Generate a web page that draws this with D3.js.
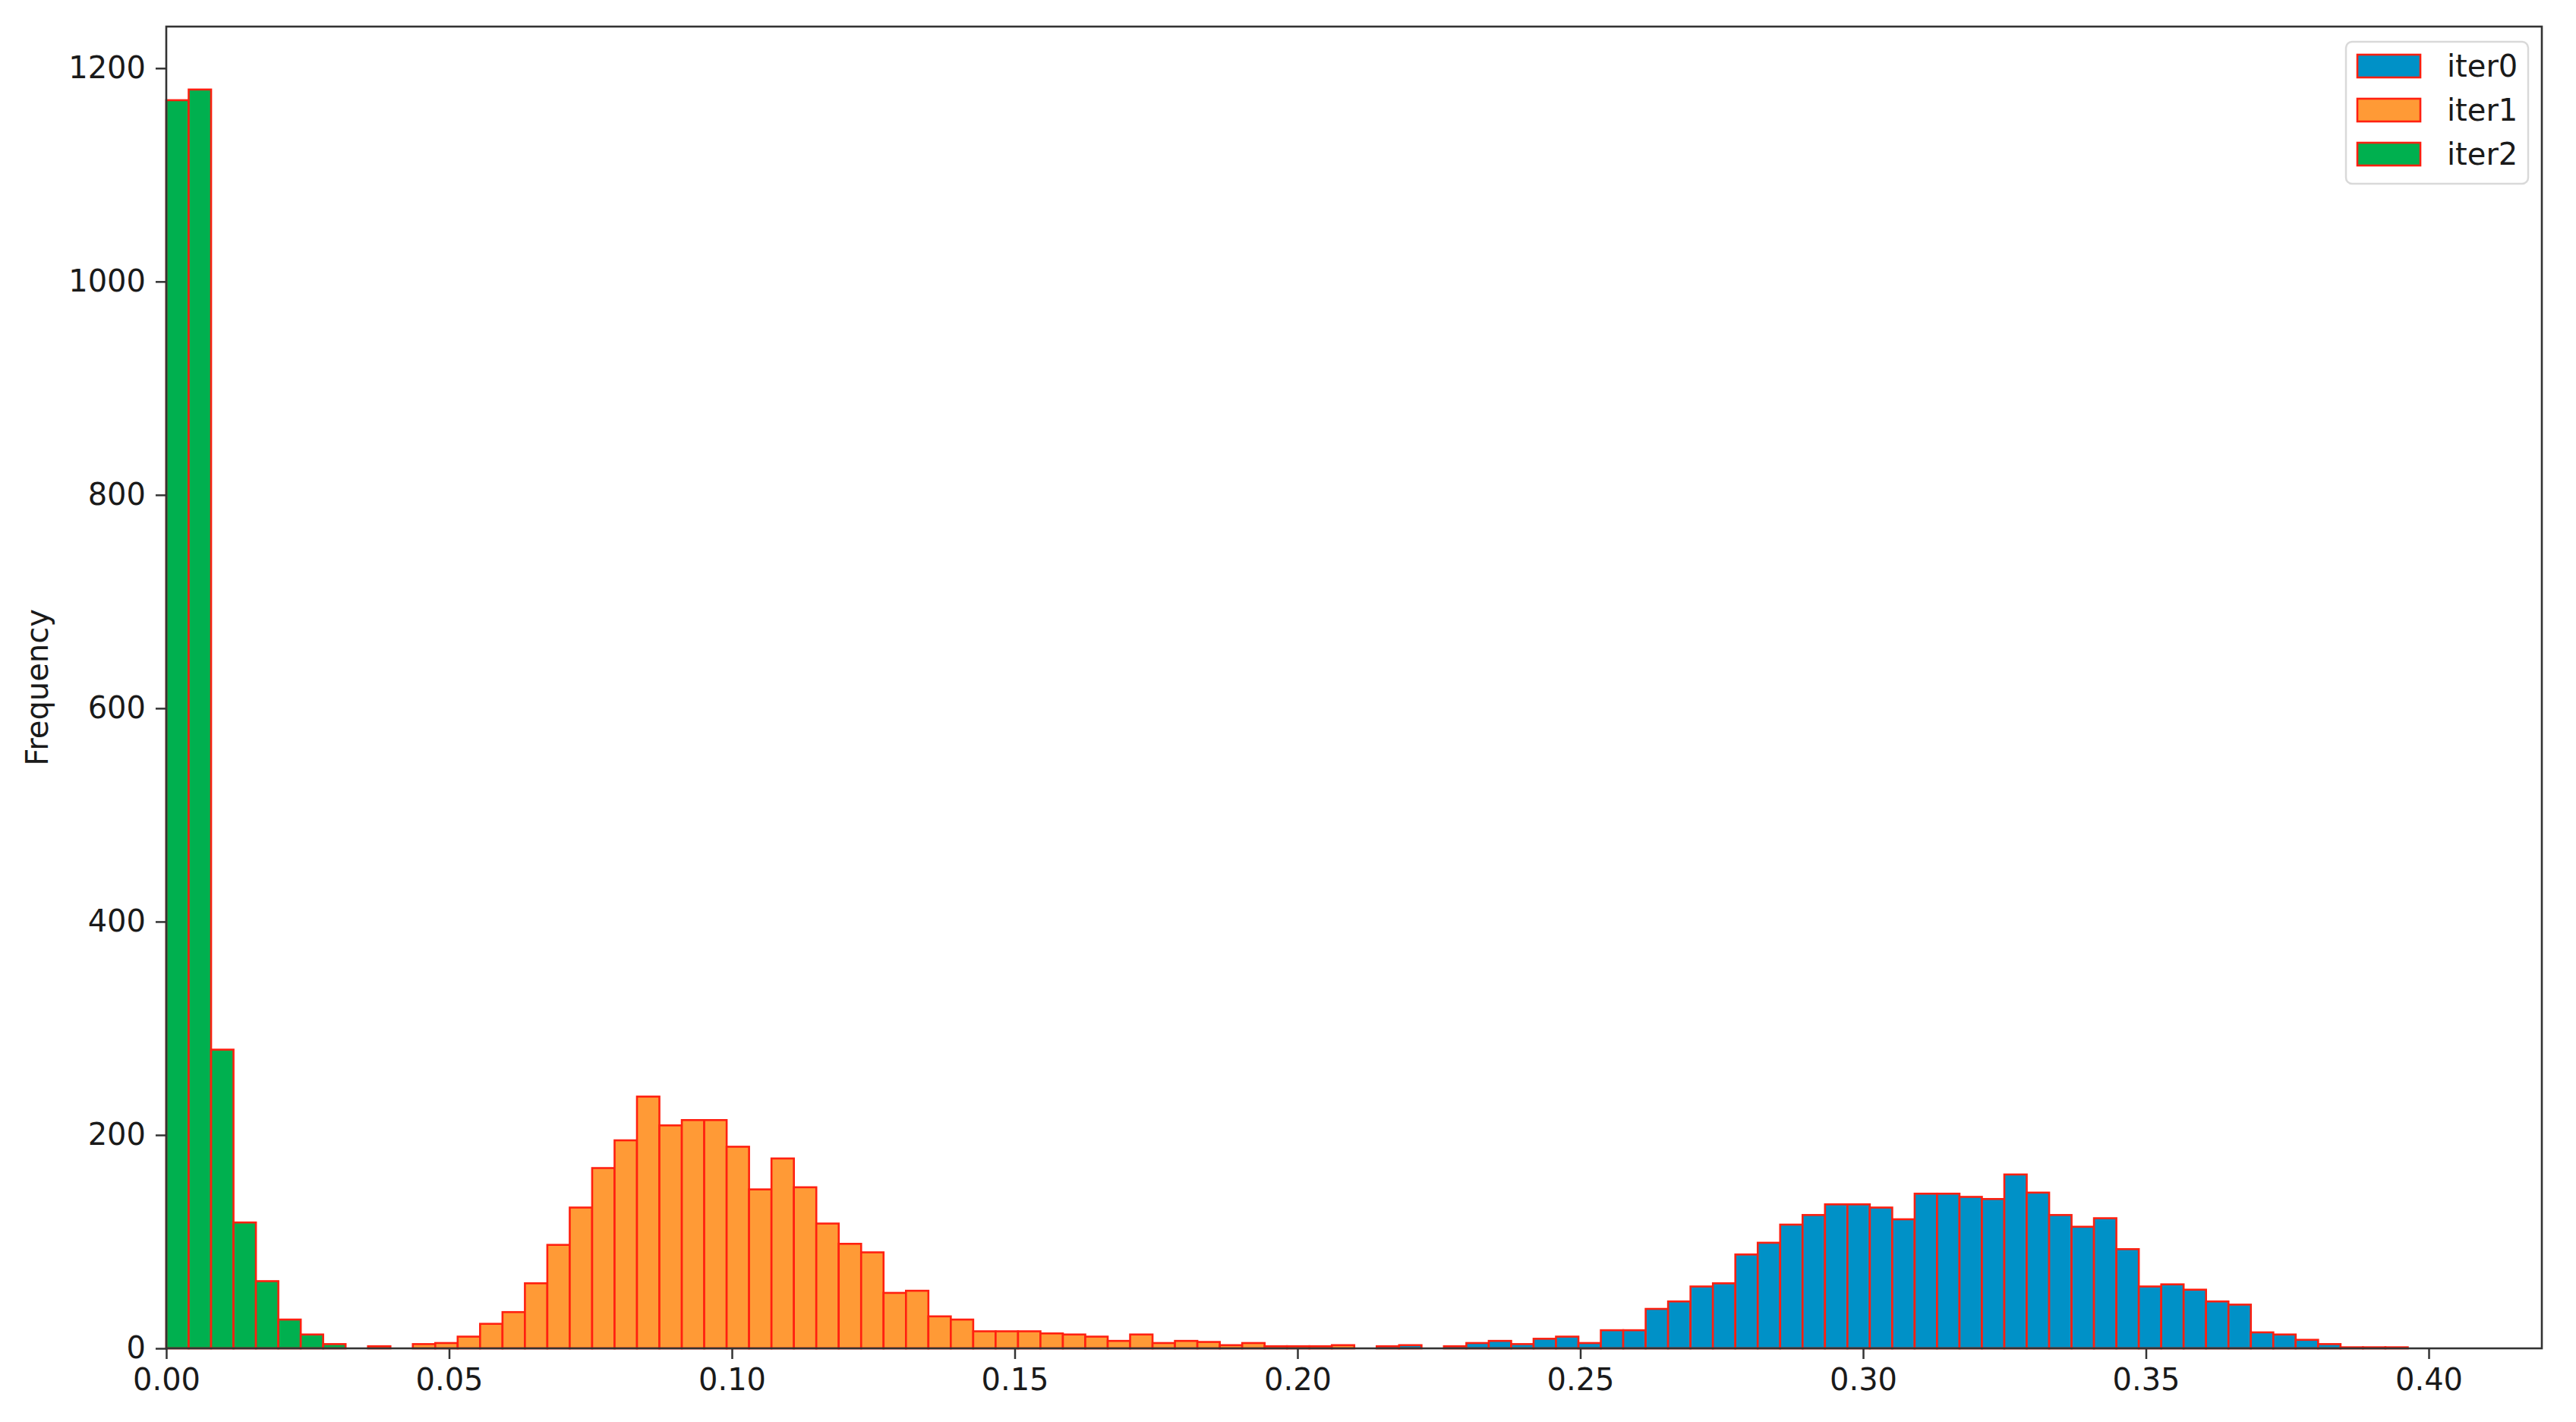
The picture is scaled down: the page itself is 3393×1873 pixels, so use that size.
<!DOCTYPE html>
<html>
<head>
<meta charset="utf-8">
<script src="https://cdn.jsdelivr.net/npm/d3@7"></script>
<style>
  html, body { margin: 0; padding: 0; background: #fff; }
  svg { display: block; }
  text { font-family: "DejaVu Sans", sans-serif; fill: #1a1a1a; }
</style>
</head>
<body>
<svg id="chart" width="3393" height="1873"></svg>
<script>
// ---- data (histogram: 100 shared bins from 0 to ~0.3963) ----
const binStart = 0;
const binWidth = 0.003963;
const seriesNames = ["iter0", "iter1", "iter2"];

const iter0Counts = [
  0,0,0,0,0,0,0,0,0,0,
  0,0,0,0,0,0,0,0,0,0,
  0,0,0,0,0,0,0,0,0,0,
  0,0,0,0,0,0,0,0,0,0,
  0,0,0,0,0,0,0,0,0,0,
  0,0,0,0,2,3,0,2,5,7,
  4,9,11,5,17,17,37,44,58,61,
  88,99,116,125,135,135,132,121,145,145,
  142,140,163,146,125,114,122,93,58,60,
  55,44,41,15,13,8,4,1,1,1
];
const iter1Counts = [
  0,0,0,0,0,0,0,0,0,2,
  0,4,5,11,23,34,61,97,132,169,
  195,236,209,214,214,189,149,178,151,117,
  98,90,52,54,30,27,16,16,16,14,
  13,11,7,13,5,7,6,3,5,2,
  2,2,3,0,0,0,0,0,0,0,
  0,0,0,0,0,0,0,0,0,0,
  0,0,0,0,0,0,0,0,0,0,
  0,0,0,0,0,0,0,0,0,0,
  0,0,0,0,0,0,0,0,0,0
];
const iter2Counts = [
  1170,1180,280,118,63,27,13,4,0,0,
  0,0,0,0,0,0,0,0,0,0,
  0,0,0,0,0,0,0,0,0,0,
  0,0,0,0,0,0,0,0,0,0,
  0,0,0,0,0,0,0,0,0,0,
  0,0,0,0,0,0,0,0,0,0,
  0,0,0,0,0,0,0,0,0,0,
  0,0,0,0,0,0,0,0,0,0,
  0,0,0,0,0,0,0,0,0,0,
  0,0,0,0,0,0,0,0,0,0
];
const xTicks = [0, 0.05, 0.10, 0.15, 0.20, 0.25, 0.30, 0.35, 0.40];
const yTicks = [0, 200, 400, 600, 800, 1000, 1200];
const xDomain = [0, 0.42];
const yDomain = [0, 1239];

// ---- styling ----
const colors = { iter0: "#0091c7", iter1: "#ff9a36", iter2: "#00b04f" };
const edgeColor = "#ff2010";
const fontSize = 40;
const margin = { left: 219, right: 45, top: 35, bottom: 97 };
const W = 3393, H = 1873;
const iw = W - margin.left - margin.right;
const ih = H - margin.top - margin.bottom;

const svg = d3.select("#chart");
const g = svg.append("g").attr("transform", `translate(${margin.left},${margin.top})`);

const x = d3.scaleLinear().domain(xDomain).range([0, iw]);
const y = d3.scaleLinear().domain(yDomain).range([ih, 0]);

const seriesData = { iter0: iter0Counts, iter1: iter1Counts, iter2: iter2Counts };

seriesNames.forEach(name => {
  const bins = seriesData[name].map((c, i) => ({
    x0: binStart + i * binWidth,
    x1: binStart + (i + 1) * binWidth,
    count: c
  })).filter(d => d.count > 0);
  g.append("g").attr("class", "bars-" + name)
    .selectAll("rect").data(bins).join("rect")
    .attr("x", d => x(d.x0))
    .attr("width", d => x(d.x1) - x(d.x0))
    .attr("y", d => y(d.count))
    .attr("height", d => y(0) - y(d.count))
    .attr("fill", colors[name])
    .attr("stroke", edgeColor)
    .attr("stroke-width", 2.6);
});

// axes
const axisColor = "#333";
const xAxis = d3.axisBottom(x).tickValues(xTicks).tickFormat(d3.format(".2f")).tickSize(14).tickPadding(13);
const yAxis = d3.axisLeft(y).tickValues(yTicks).tickFormat(d3.format("d")).tickSize(14).tickPadding(13);

const gx = g.append("g").attr("transform", `translate(0,${ih})`).call(xAxis);
const gy = g.append("g").call(yAxis);
[gx, gy].forEach(a => {
  a.select(".domain").remove();
  a.selectAll(".tick line").attr("stroke", axisColor).attr("stroke-width", 2.5);
  a.selectAll(".tick text").attr("font-size", fontSize).attr("font-family", "DejaVu Sans").attr("fill", "#1a1a1a");
});

// frame (spines)
g.append("rect")
  .attr("x", 0).attr("y", 0).attr("width", iw).attr("height", ih)
  .attr("fill", "none").attr("stroke", axisColor).attr("stroke-width", 2.6);

// y label
svg.append("text")
  .attr("transform", `translate(63,${margin.top + ih / 2}) rotate(-90)`)
  .attr("text-anchor", "middle")
  .attr("font-size", fontSize)
  .text("Frequency");

// legend
const lg = svg.append("g").attr("transform", "translate(3090,55)");
lg.append("rect").attr("width", 240).attr("height", 187).attr("rx", 8)
  .attr("fill", "#fff").attr("fill-opacity", 0.8).attr("stroke", "#d9d9d9").attr("stroke-width", 2.5);
seriesNames.forEach((name, i) => {
  const row = lg.append("g").attr("transform", `translate(15,${17 + i * 58})`);
  row.append("rect").attr("width", 83).attr("height", 30)
    .attr("fill", colors[name]).attr("stroke", edgeColor).attr("stroke-width", 2.6);
  row.append("text").attr("x", 118).attr("y", 15).attr("dy", "0.35em")
    .attr("font-size", fontSize).text(name);
});
</script>
</body>
</html>
